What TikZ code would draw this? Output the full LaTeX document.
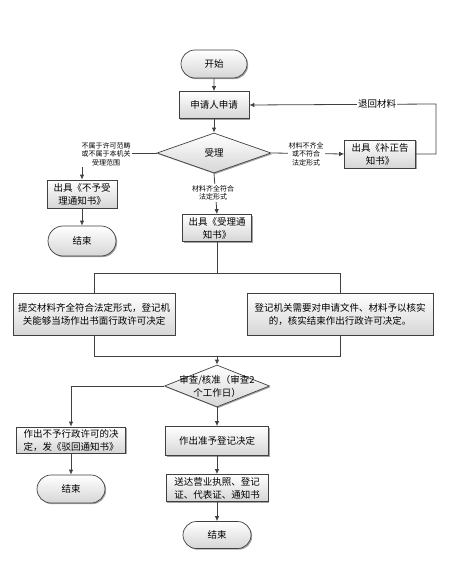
\documentclass[tikz,border=0pt]{standalone}
\usepackage{fontspec}
\setmainfont{Noto Sans CJK SC}
\usetikzlibrary{shapes.geometric,shapes.misc,shadows,arrows.meta}
\definecolor{edge}{HTML}{404040}
\definecolor{shade}{HTML}{D6D6D6}
\tikzset{
  base/.style={draw=edge, line width=0.7pt, top color=white, bottom color=shade,
    drop shadow={shadow xshift=1.2pt, shadow yshift=-1.2pt, fill=black!60, opacity=0.6},
    font=\fontsize{9.5}{13}\selectfont, align=center, inner sep=1pt},
  boxn/.style 2 args={base, rectangle, minimum width=#1, minimum height=#2},
  term/.style 2 args={base, rounded rectangle, minimum width=#1, minimum height=#2},
  dia/.style 2 args={base, diamond, minimum width=#1, minimum height=#2, inner sep=0pt},
  lab/.style={fill=white, font=\fontsize{7}{8.5}\selectfont, align=center, inner sep=1pt},
  conn/.style={draw=edge, line width=0.8pt, -{Latex[length=5pt,width=4.5pt]}},
  line/.style={draw=edge, line width=0.8pt},
  dtext/.style={font=\fontsize{9.5}{13}\selectfont, align=center}
}
\begin{document}
\begin{tikzpicture}[x=1pt, y=-1pt]
\useasboundingbox (0,0) rectangle (457,585);
% nodes
\node[term={68pt}{28pt}] (start) at (214,64) {开始};
\node[boxn={70pt}{27pt}] (apply) at (214,105) {申请人申请};
\node[dia={114pt}{40pt}] (acc) at (214,153) {};
\node[dtext] (acct) at (acc) {受理};
\node[boxn={71pt}{28pt}] (bz) at (380,154) {出具《补正告\\知书》};
\node[boxn={70pt}{28pt}] (nby) at (82,194) {出具《不予受\\理通知书》};
\node[term={70pt}{30pt}] (end1) at (82,241) {结束};
\node[boxn={69pt}{27pt}] (sl) at (217,228) {出具《受理通\\知书》};
\node[boxn={162pt}{42pt}] (b1) at (94,314) {提交材料齐全符合法定形式，登记机\\关能够当场作出书面行政许可决定};
\node[boxn={186pt}{42pt}] (b2) at (340,314) {登记机关需要对申请文件、材料予以核实\\的，核实结束作出行政许可决定。};
\node[dia={105pt}{42pt}] (rev) at (217,386) {};
\node[dtext] (revt) at (rev) {审查/核准（审查2\\个工作日）};
\node[boxn={109pt}{26pt}, align=left] (nr) at (71,440) {作出不予行政许可的决\\定，发《驳回通知书》};
\node[term={70pt}{28pt}] (end2) at (71,489) {结束};
\node[boxn={103pt}{29pt}] (ok) at (217,441) {作出准予登记决定};
\node[boxn={102pt}{27pt}] (send) at (217,488) {送达营业执照、登记\\证、代表证、通知书};
\node[term={70pt}{27pt}] (end3) at (217,535) {结束};
% coordinates
\coordinate (r1) at (436,154);
\coordinate (r2) at (436,104);
\coordinate (j1) at (217,273);
\coordinate (j2) at (217,356);
% connectors
\draw[conn] (start) -- (apply);
\draw[conn] (apply) -- (acc);
\draw[conn] (acc.east) -- (bz.west);
\node[lab] (l1) at (306,154) {材料不齐全\\或不符合\\法定形式};
\draw[conn] (bz.east) -- (r1) -- (r2) -- (apply.east);
\node[lab, font=\fontsize{9.5}{13}\selectfont] (l2) at (377,104) {退回材料};
\draw[conn] (acc.west) -- (acc.west -| nby.north) -- (nby.north);
\node[lab] (l3) at (106,154) {不属于许可范畴\\或不属于本机关\\受理范围};
\draw[conn] (nby) -- (end1);
\draw[conn] (acc.south) -- (sl.north);
\node[lab] (l4) at (213,193) {材料齐全符合\\法定形式};
\draw[line] (sl.south) -- (j1);
\draw[line] (b1.north) -- (b1.north |- j1) -- (b2.north |- j1) -- (b2.north);
\draw[line] (b1.south) -- (b1.south |- j2) -- (b2.south |- j2) -- (b2.south);
\draw[conn] (j2) -- (rev.north);
\draw[conn] (rev.west) -- (rev.west -| nr.north) -- (nr.north);
\draw[conn] (nr) -- (end2);
\draw[conn] (rev.south) -- (ok.north);
\draw[conn] (ok) -- (send);
\draw[conn] (send) -- (end3);
\end{tikzpicture}
\end{document}
